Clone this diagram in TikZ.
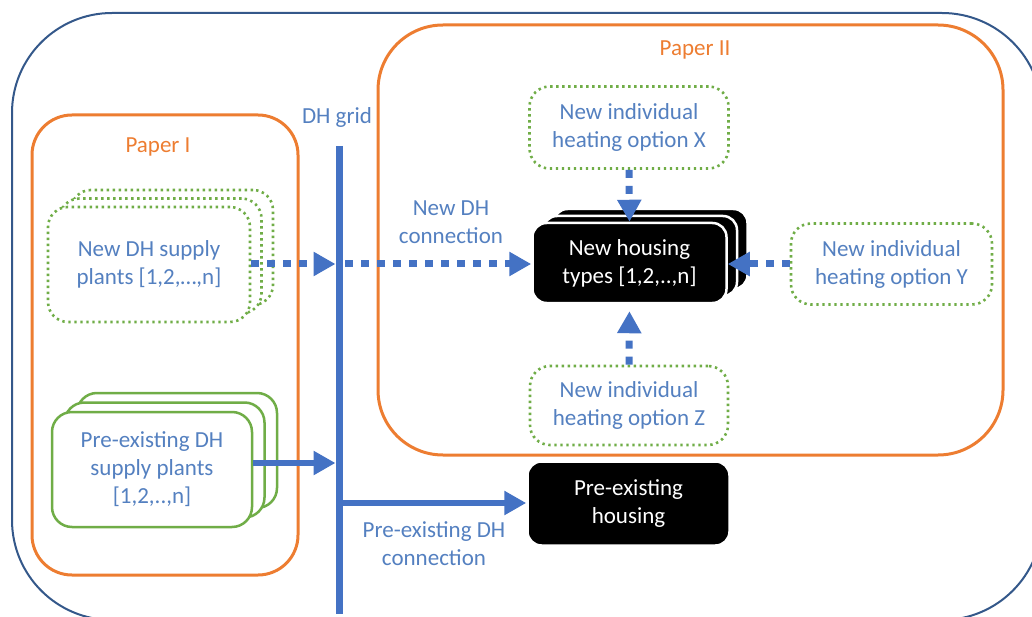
\documentclass[tikz,border=0pt]{standalone}
\usepackage{fontspec}
\setmainfont{Carlito}
\usetikzlibrary{arrows.meta}

\definecolor{gridblue}{RGB}{68,114,196}
\definecolor{txtblue}{RGB}{84,128,192}
\definecolor{paperorange}{RGB}{237,125,49}
\definecolor{plantgreen}{RGB}{112,173,71}
\definecolor{outerblue}{RGB}{52,88,138}

\tikzset{
  every node/.style={font=\fontsize{23}{28}\selectfont, align=center, text=txtblue, inner sep=0pt},
  outerframe/.style={draw=outerblue, line width=2pt, rounded corners=100pt},
  paperframe/.style={draw=paperorange, line width=3pt, rounded corners=#1},
  paperlabel/.style={text=paperorange},
  newbox/.style={draw=plantgreen, line width=2.6pt, dash pattern=on 2.4pt off 3.6pt,
                 fill=white, rounded corners=20pt},
  oldbox/.style={draw=plantgreen, line width=2.5pt, fill=white, rounded corners=20pt},
  housebox/.style={fill=black, draw=white, line width=2.5pt, rounded corners=14pt, text=white},
  flowdot/.style={draw=gridblue, line width=7pt, dash pattern=on 8pt off 8pt,
                  -{Triangle[length=22pt,width=23pt]}},
  flowsolid/.style={draw=gridblue, line width=6pt, -{Triangle[length=22pt,width=23pt]}},
  gridline/.style={draw=gridblue, line width=7pt}
}

\begin{document}
\begin{tikzpicture}[x=1pt,y=-1pt]
\useasboundingbox (0,0) rectangle (1032,617);

% frames
\node[outerframe, minimum width=1030pt, minimum height=607pt] (outer) at (527,316.5) {};
\node[paperframe=40pt, minimum width=266pt, minimum height=460pt] (paperI) at (165,345) {};
\node[paperframe=65pt, minimum width=625pt, minimum height=430pt] (paperII) at (690.5,240) {};
\node[paperlabel] (paperIlbl) at (158,147) {Paper I};
\node[paperlabel] (paperIIlbl) at (695,50) {Paper II};

% DH grid
\node (gridlbl) at (337,117) {DH grid};
\coordinate (gtop) at (339,146);
\coordinate (gbot) at (339,614);
\draw[gridline] (gtop) -- (gbot);

% new DH supply plants (stacked)
\node[newbox, minimum width=202pt, minimum height=115pt] (sup3) at (172,247.5) {};
\node[newbox, minimum width=202pt, minimum height=115pt] (sup2) at (160.5,256) {};
\node[newbox, minimum width=202pt, minimum height=115pt] (sup) at (149,264.5) {New DH supply\\plants [1,2,…,n]};

% pre-existing DH supply plants (stacked)
\node[oldbox, minimum width=200pt, minimum height=115pt] (pre3) at (177,450.5) {};
\node[oldbox, minimum width=200pt, minimum height=115pt] (pre2) at (164.5,460) {};
\node[oldbox, minimum width=200pt, minimum height=115pt] (pre) at (152,469.5) {Pre-existing DH\\supply plants\\{[1,2,..,n]}};

% new housing types (stacked)
\node[housebox, minimum width=194pt, minimum height=80pt] (house3) at (650.5,249) {};
\node[housebox, minimum width=194pt, minimum height=80pt] (house2) at (640,256) {};
\node[housebox, minimum width=194pt, minimum height=80pt] (house) at (629.5,263) {New housing\\types [1,2,..,n]};

% pre-existing housing
\node[housebox, minimum width=202pt, minimum height=84pt] (oldhouse) at (628.5,503.5) {Pre-existing\\housing};

% individual heating options
\node[newbox, minimum width=199pt, minimum height=82pt] (optX) at (629,127.5) {New individual\\heating option X};
\node[newbox, minimum width=201pt, minimum height=81pt] (optY) at (891.5,264) {New individual\\heating option Y};
\node[newbox, minimum width=198pt, minimum height=79pt] (optZ) at (629,405.5) {New individual\\heating option Z};

% connection labels
\node (newconn) at (451,222) {New DH\\connection};
\node (oldconn) at (434,544) {Pre-existing DH\\connection};

% flows
\coordinate (gnew) at (339,264);
\coordinate (gnewin) at (335.5,264);
\coordinate (gnewout) at (345,264);
\coordinate (goldin) at (335.5,463);
\coordinate (goldout) at (339,503);

\draw[flowdot] (sup.east |- gnew) -- (gnewin);
\draw[flowdot] (gnewout) -- (house.west |- gnew);
\draw[flowsolid] (pre.east |- goldin) -- (goldin);
\draw[flowsolid] (goldout) -- (oldhouse.west |- goldout);

\draw[flowdot] (optX.south) -- (house.north);
\draw[flowdot] (optY.west) -- (house.east |- optY.west);
\draw[flowdot, shorten >=7pt] (optZ.north) -- (house.south);
\end{tikzpicture}
\end{document}
